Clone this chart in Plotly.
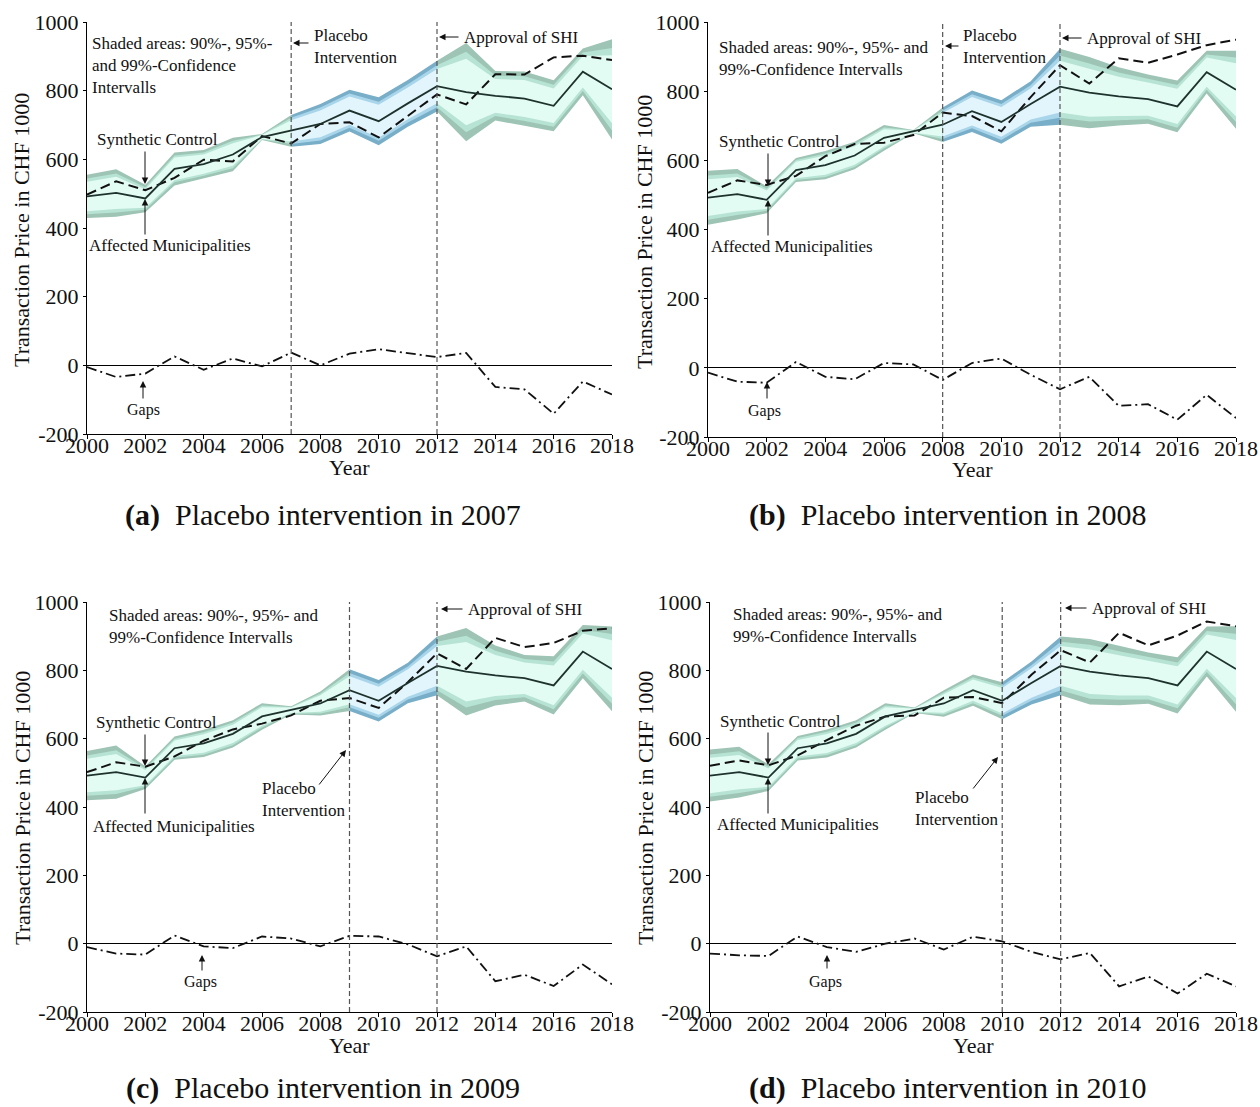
import plotly.graph_objects as go

W, H = 1260, 1107
SERIF = "Liberation Serif"


def px(x):
    return x / W


def py(y):
    return 1 - y / H


# ---------------- data ----------------
years = list(range(2000, 2019))
xtick_vals = list(range(2000, 2019, 2))
xtick_text = [str(v) for v in xtick_vals]
ytick_vals = [-200, 0, 200, 400, 600, 800, 1000]
ytick_text = ["-200", "0", "200", "400", "600", "800", "1000"]

affected = [492, 502, 486, 572, 586, 614, 665, 683, 703, 742, 711, 763, 813, 796, 785, 777, 756, 855, 804]

synthetic_2007 = [497, 536, 510, 546, 599, 594, 668, 646, 703, 708, 664, 727, 789, 760, 848, 847, 897, 902, 889]
gaps_2007 = [-5, -34, -24, 26, -13, 20, -3, 37, 0, 34, 47, 36, 24, 36, -63, -70, -141, -47, -85]
w99_2007 = [63, 69, 40, 48, 41, 49, 9, 46, 58, 61, 70, 68, 74, 143, 72, 79, 74, 68, 146]
w95_2007 = [52, 57, 33, 39, 34, 40, 7, 38, 48, 50, 57, 56, 61, 117, 59, 65, 61, 56, 120]
w90_2007 = [43, 47, 27, 33, 28, 33, 6, 31, 39, 41, 48, 46, 50, 97, 49, 54, 50, 46, 99]

synthetic_2008 = [506, 542, 529, 555, 612, 647, 651, 673, 738, 728, 684, 783, 875, 822, 895, 882, 906, 933, 949]
gaps_2008 = [-14, -40, -43, 17, -26, -33, 14, 10, -35, 14, 27, -20, -62, -26, -110, -105, -150, -78, -145]
w99_2008 = [78, 73, 39, 35, 41, 40, 37, 5, 50, 60, 63, 66, 110, 103, 84, 71, 75, 62, 113]
w95_2008 = [64, 60, 32, 29, 34, 33, 30, 4, 41, 49, 52, 54, 90, 84, 69, 58, 62, 51, 93]
w90_2008 = [53, 50, 27, 24, 28, 27, 25, 3, 34, 41, 43, 45, 75, 70, 57, 48, 51, 42, 77]

synthetic_2009 = [502, 531, 518, 548, 594, 627, 644, 668, 711, 719, 690, 765, 850, 804, 895, 868, 880, 916, 923]
gaps_2009 = [-10, -29, -32, 24, -8, -13, 21, 15, -8, 23, 21, -2, -37, -8, -110, -91, -124, -61, -119]
w99_2009 = [72, 78, 33, 34, 40, 40, 39, 12, 35, 61, 61, 59, 86, 128, 88, 68, 85, 78, 124]
w95_2009 = [59, 64, 27, 28, 33, 33, 32, 10, 29, 50, 50, 48, 71, 105, 72, 56, 70, 64, 102]
w90_2009 = [49, 53, 22, 23, 27, 27, 27, 8, 24, 41, 41, 40, 58, 87, 60, 46, 58, 53, 84]

synthetic_2010 = [521, 536, 522, 551, 596, 638, 665, 668, 720, 722, 704, 787, 859, 823, 910, 873, 902, 943, 929]
gaps_2010 = [-29, -34, -36, 21, -10, -24, 0, 15, -17, 20, 7, -24, -46, -27, -125, -96, -146, -88, -125]
w99_2010 = [76, 74, 39, 36, 41, 40, 39, 8, 39, 46, 54, 63, 86, 96, 87, 75, 82, 73, 125]
w95_2010 = [62, 61, 32, 30, 34, 33, 32, 7, 32, 38, 44, 52, 71, 79, 71, 62, 67, 60, 103]
w90_2010 = [52, 50, 27, 24, 28, 27, 27, 5, 27, 31, 37, 43, 58, 65, 59, 51, 56, 50, 85]

approval_year = 2012
captions = ["Placebo intervention in 2007", "Placebo intervention in 2008",
            "Placebo intervention in 2009", "Placebo intervention in 2010"]

# ---------------- styles / layout ----------------
GREEN = ["#9dc4b4", "#b6e3d3", "#e2fbf3"]
BLUE = ["#78aec8", "#a9d5ea", "#e3f5fc"]

panels = [
    dict(letter="a", placebo=2007, syn=synthetic_2007, gap=gaps_2007, w=(w99_2007, w95_2007, w90_2007),
         xd=(87, 612), yd=(22, 434)),
    dict(letter="b", placebo=2008, syn=synthetic_2008, gap=gaps_2008, w=(w99_2008, w95_2008, w90_2008),
         xd=(708, 1236), yd=(22, 437)),
    dict(letter="c", placebo=2009, syn=synthetic_2009, gap=gaps_2009, w=(w99_2009, w95_2009, w90_2009),
         xd=(87, 612), yd=(602, 1012)),
    dict(letter="d", placebo=2010, syn=synthetic_2010, gap=gaps_2010, w=(w99_2010, w95_2010, w90_2010),
         xd=(710, 1236), yd=(602, 1012)),
]

fig = go.Figure()
layout = dict(width=W, height=H, autosize=False,
              margin=dict(l=0, r=0, t=0, b=0, pad=0, autoexpand=False),
              paper_bgcolor="white", plot_bgcolor="white", showlegend=False)

for i, p in enumerate(panels):
    n = "" if i == 0 else str(i + 1)
    xa, ya = "x" + n, "y" + n
    pi = years.index(p["placebo"])
    ji = years.index(approval_year)
    segs = [(0, pi, GREEN), (pi, ji, BLUE), (ji, len(years) - 1, GREEN)]
    for s0, s1, cols in segs:
        for w, col in zip(p["w"], cols):
            idx = list(range(s0, s1 + 1))
            xs = [years[k] for k in idx] + [years[k] for k in idx[::-1]]
            ys = [affected[k] + w[k] for k in idx] + [affected[k] - w[k] for k in idx[::-1]]
            fig.add_trace(go.Scatter(x=xs, y=ys, mode="lines", fill="toself", fillcolor=col,
                                     line=dict(width=0, color=col), xaxis=xa, yaxis=ya,
                                     hoverinfo="skip", showlegend=False))
    fig.add_trace(go.Scatter(x=years, y=p["syn"], mode="lines", name="Synthetic Control",
                             line=dict(color="#111111", width=2, dash="10px,5px"),
                             xaxis=xa, yaxis=ya, showlegend=False))
    fig.add_trace(go.Scatter(x=years, y=affected, mode="lines", name="Affected Municipalities",
                             line=dict(color="#1d322c", width=1.8), xaxis=xa, yaxis=ya, showlegend=False))
    fig.add_trace(go.Scatter(x=years, y=p["gap"], mode="lines", name="Gaps",
                             line=dict(color="#111111", width=1.8, dash="10px,4px,2px,4px"),
                             xaxis=xa, yaxis=ya, showlegend=False))
    for yr in (p["placebo"], approval_year):
        fig.add_shape(type="line", x0=yr, x1=yr, y0=-200, y1=1000, xref=xa, yref=ya,
                      line=dict(color="#555555", width=1.2, dash="5px,3px"))

    x0, x1 = p["xd"]
    y0, y1 = p["yd"]
    layout["xaxis" + n] = dict(domain=[px(x0), px(x1)], anchor=ya, range=[2000, 2018],
                               tickvals=xtick_vals, ticktext=xtick_text, automargin=False,
                               showline=True, linecolor="black", linewidth=1.2,
                               ticks="outside", ticklen=4, tickcolor="black",
                               ticklabelstandoff=-13,
                               showgrid=False, zeroline=False,
                               tickfont=dict(family=SERIF, size=22, color="#111"))
    layout["yaxis" + n] = dict(domain=[py(y1), py(y0)], anchor=xa, range=[-200, 1000],
                               tickvals=ytick_vals, ticktext=ytick_text, automargin=False,
                               showline=True, linecolor="black", linewidth=1.2,
                               ticks="outside", ticklen=3, tickcolor="black",
                               showgrid=False, zeroline=True, zerolinecolor="black",
                               zerolinewidth=1.3,
                               tickfont=dict(family=SERIF, size=22, color="#111"))

fig.update_layout(**layout)

ann = []


def text(t, x, y, xanchor="left", yanchor="middle", size=17, **kw):
    ann.append(dict(text=t, x=px(x), y=py(y), xref="paper", yref="paper", showarrow=False,
                    xanchor=xanchor, yanchor=yanchor, align=xanchor if xanchor != "center" else "center",
                    font=dict(family=SERIF, size=size, color="#111"), **kw))


def arrow(tip, tail):
    ann.append(dict(text="", x=px(tip[0]), y=py(tip[1]), xref="paper", yref="paper",
                    showarrow=True, ax=tail[0] - tip[0], ay=tail[1] - tip[1],
                    axref="pixel", ayref="pixel", arrowhead=2, arrowsize=1.3,
                    arrowwidth=1, arrowcolor="#111", standoff=0, startstandoff=0))


# panel (a)
text("Shaded areas: 90%-, 95%-<br>and 99%-Confidence<br>Intervalls", 90, 32, yanchor="top")
text("Placebo<br>Intervention", 312, 24, yanchor="top")
text("Approval of SHI", 462, 37)
text("Synthetic Control", 157, 140, xanchor="center")
text("Affected Municipalities", 170, 245, xanchor="center")
text("Gaps", 143, 410, xanchor="center", size=16)
arrow((293, 43), (310, 43))
arrow((439, 37), (460, 37))
arrow((145, 184), (145, 150))
arrow((145, 199), (145, 236))
arrow((143, 381), (143, 400))

# panel (b)
text("Shaded areas: 90%-, 95%- and<br>99%-Confidence Intervalls", 717, 36, yanchor="top")
text("Placebo<br>Intervention", 961, 24, yanchor="top")
text("Approval of SHI", 1085, 38)
text("Synthetic Control", 779, 141, xanchor="center")
text("Affected Municipalities", 792, 246, xanchor="center")
text("Gaps", 765, 411, xanchor="center", size=16)
arrow((945, 46), (960, 46))
arrow((1062, 38), (1083, 38))
arrow((768, 186), (768, 152))
arrow((768, 200), (768, 237))
arrow((767, 382), (767, 400))

# panel (c)
text("Shaded areas: 90%-, 95%- and<br>99%-Confidence Intervalls", 107, 604, yanchor="top")
text("Approval of SHI", 466, 609)
text("Synthetic Control", 156, 722, xanchor="center")
text("Affected Municipalities", 174, 826, xanchor="center")
text("Placebo<br>Intervention", 260, 777, yanchor="top")
text("Gaps", 200, 982, xanchor="center", size=16)
arrow((441, 609), (464, 609))
arrow((145, 766), (145, 733))
arrow((145, 778), (145, 815))
arrow((346, 750), (318, 786))
arrow((202, 955), (202, 972))

# panel (d)
text("Shaded areas: 90%-, 95%- and<br>99%-Confidence Intervalls", 731, 603, yanchor="top")
text("Approval of SHI", 1090, 608)
text("Synthetic Control", 780, 721, xanchor="center")
text("Affected Municipalities", 798, 825, xanchor="center")
text("Placebo<br>Intervention", 913, 786, yanchor="top")
text("Gaps", 825, 982, xanchor="center", size=16)
arrow((1065, 608), (1088, 608))
arrow((768, 765), (768, 731))
arrow((768, 778), (768, 815))
arrow((998, 757), (972, 790))
arrow((827, 955), (827, 970))

# axis titles
for (xt, yt, xy, yy) in [(22, 230, 349, 467), (645, 232, 972, 469), (22, 808, 349, 1045), (645, 808, 973, 1045)]:
    text("Transaction Price in CHF 1000", xt, yt, xanchor="center", size=22, textangle=-90)
    text("Year", xy, yy, xanchor="center", size=22)

# captions
for (cx, cy), p, cap in zip([(323, 515), (947, 515), (323, 1088), (947, 1088)], panels, captions):
    text("<b>(" + p["letter"] + ")</b>\u00a0\u00a0" + cap, cx, cy, xanchor="center", size=30)

fig.update_layout(annotations=ann)
fig.write_html("out.html")
